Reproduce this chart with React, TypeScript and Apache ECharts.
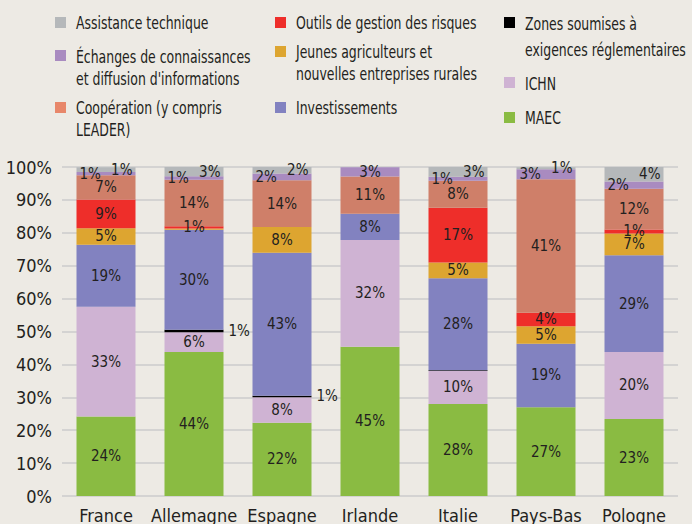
import React, { useEffect, useRef } from "react";
import * as echarts from "echarts";

const categories = ["France", "Allemagne", "Espagne", "Irlande", "Italie", "Pays-Bas", "Pologne"];

const seriesNames = [
  "MAEC",
  "ICHN",
  "Zones soumises à\nexigences réglementaires",
  "Investissements",
  "Jeunes agriculteurs et\nnouvelles entreprises rurales",
  "Outils de gestion des risques",
  "Coopération (y compris\nLEADER)",
  "Échanges de connaissances\net diffusion d'informations",
  "Assistance technique",
];

const maec = [24.2, 43.8, 22.3, 45.4, 28, 27, 23.4];
const ichn = [33.3, 6.0, 7.7, 32.4, 10, 0, 20.4];
const zones = [0, 0.7, 0.5, 0, 0.2, 0, 0];
const investissements = [18.9, 30.4, 43.4, 8, 28, 19.3, 29.4];
const jeunes = [5.0, 0.4, 7.9, 0, 4.8, 5.3, 6.6];
const outils = [8.7, 0.7, 0, 0, 16.6, 4.1, 1.2];
const cooperation = [7.4, 14.1, 14.2, 11.3, 8.2, 40.6, 12.4];
const echanges = [1.0, 1.1, 2, 2.8, 1.2, 3, 2.2];
const assistance = [1.4, 2.8, 2, 0, 3.1, 0.6, 4.4];

const seriesValues = [maec, ichn, zones, investissements, jeunes, outils, cooperation, echanges, assistance];

const colors = [
  "#8ABB42",
  "#CFB3D3",
  "#000000",
  "#8282C0",
  "#DDA530",
  "#EE2E2A",
  "#CF7F69",
  "#A98BC0",
  "#B5B8BA",
];
const legendColors = [
  "#8ABB42",
  "#CFB3D3",
  "#000000",
  "#8282C0",
  "#DDA530",
  "#EE2E2A",
  "#E8876A",
  "#A98BC0",
  "#B5B8BA",
];

const yTicks = { min: 0, max: 100, interval: 10 };

const FONT = '"Liberation Sans Narrow", "DejaVu Sans Condensed", "Noto Sans", sans-serif';
const INK = "#231F20";
const BG = "#EDEAE4";

// legend layout: [series index, column x, square top, first-line centre, line height]
const legendLayout: [number, number, number, number, number][] = [
  [8, 55, 17, 23, 22],
  [7, 55, 50, 56.5, 22],
  [6, 55, 102, 108, 22],
  [5, 275, 17, 23, 22],
  [4, 275, 46, 52, 22],
  [3, 275, 102, 108, 22],
  [2, 504, 17, 24, 26],
  [1, 504, 77, 84, 22],
  [0, 504, 112, 118, 22],
];

function fmt(v: number) {
  const r = Math.round(v);
  return r === 0 ? "" : r + "%";
}

export default function App() {
  const ref = useRef<HTMLDivElement>(null);

  useEffect(() => {
    if (!ref.current) return;
    const chart = echarts.init(ref.current, undefined, { renderer: "svg" });

    const labelBase = {
      show: true,
      color: INK,
      fontFamily: FONT,
      fontSize: 15,
      formatter: (p: any) => fmt(p.value),
    };

    const series = seriesValues.map((vals, si) => {
      let label: any = { ...labelBase, position: "inside" };
      let data: any[] = vals.slice();
      if (si === 2) {
        label = { ...labelBase, position: "right", distance: 5 };
      } else if (si === 8) {
        label = { ...labelBase, position: "insideRight", distance: 3 };
      } else if (si === 7) {
        label = { ...labelBase, position: "insideLeft", distance: 3 };
        data = vals.map((v, i) => (assistance[i] === 0 ? { value: v, label: { position: "inside" } } : v));
      }
      return {
        name: seriesNames[si],
        type: "bar",
        stack: "total",
        barWidth: 59,
        data,
        label,
        itemStyle: { color: colors[si] },
        emphasis: { disabled: true },
      };
    });

    const graphic: any[] = [];
    legendLayout.forEach(([si, x, sqTop, c1, lh]) => {
      graphic.push({
        type: "rect",
        shape: { x, y: sqTop, width: 11, height: 11 },
        style: { fill: legendColors[si] },
      });
      graphic.push({
        type: "text",
        x: x + 21,
        y: c1 - lh / 2,
        scaleX: 0.77,
        style: {
          text: seriesNames[si],
          x: 0,
          y: 0,
          fill: INK,
          fontFamily: FONT,
          fontSize: 18,
          lineHeight: lh,
          verticalAlign: "top",
        },
      });
    });

    chart.setOption({
      animation: false,
      backgroundColor: BG,
      grid: { left: 62, right: 14, top: 167, bottom: 26 },
      xAxis: {
        type: "category",
        data: categories,
        axisLine: { show: false },
        axisTick: { show: false },
        axisLabel: { color: INK, fontFamily: FONT, fontSize: 18, margin: 10, lineHeight: 18, interval: 0 },
      },
      yAxis: {
        type: "value",
        min: yTicks.min,
        max: yTicks.max,
        interval: yTicks.interval,
        axisLine: { show: false },
        axisTick: { show: false },
        axisLabel: { color: INK, fontFamily: FONT, fontSize: 18, margin: 10, formatter: "{value}%" },
        splitLine: { lineStyle: { color: "#D4D3D2", width: 2 } },
      },
      graphic,
      series,
    });

    return () => chart.dispose();
  }, []);

  return (
    <div
      ref={ref}
      style={{ position: "fixed", left: 0, top: 0, width: 692, height: 524 }}
    />
  );
}
